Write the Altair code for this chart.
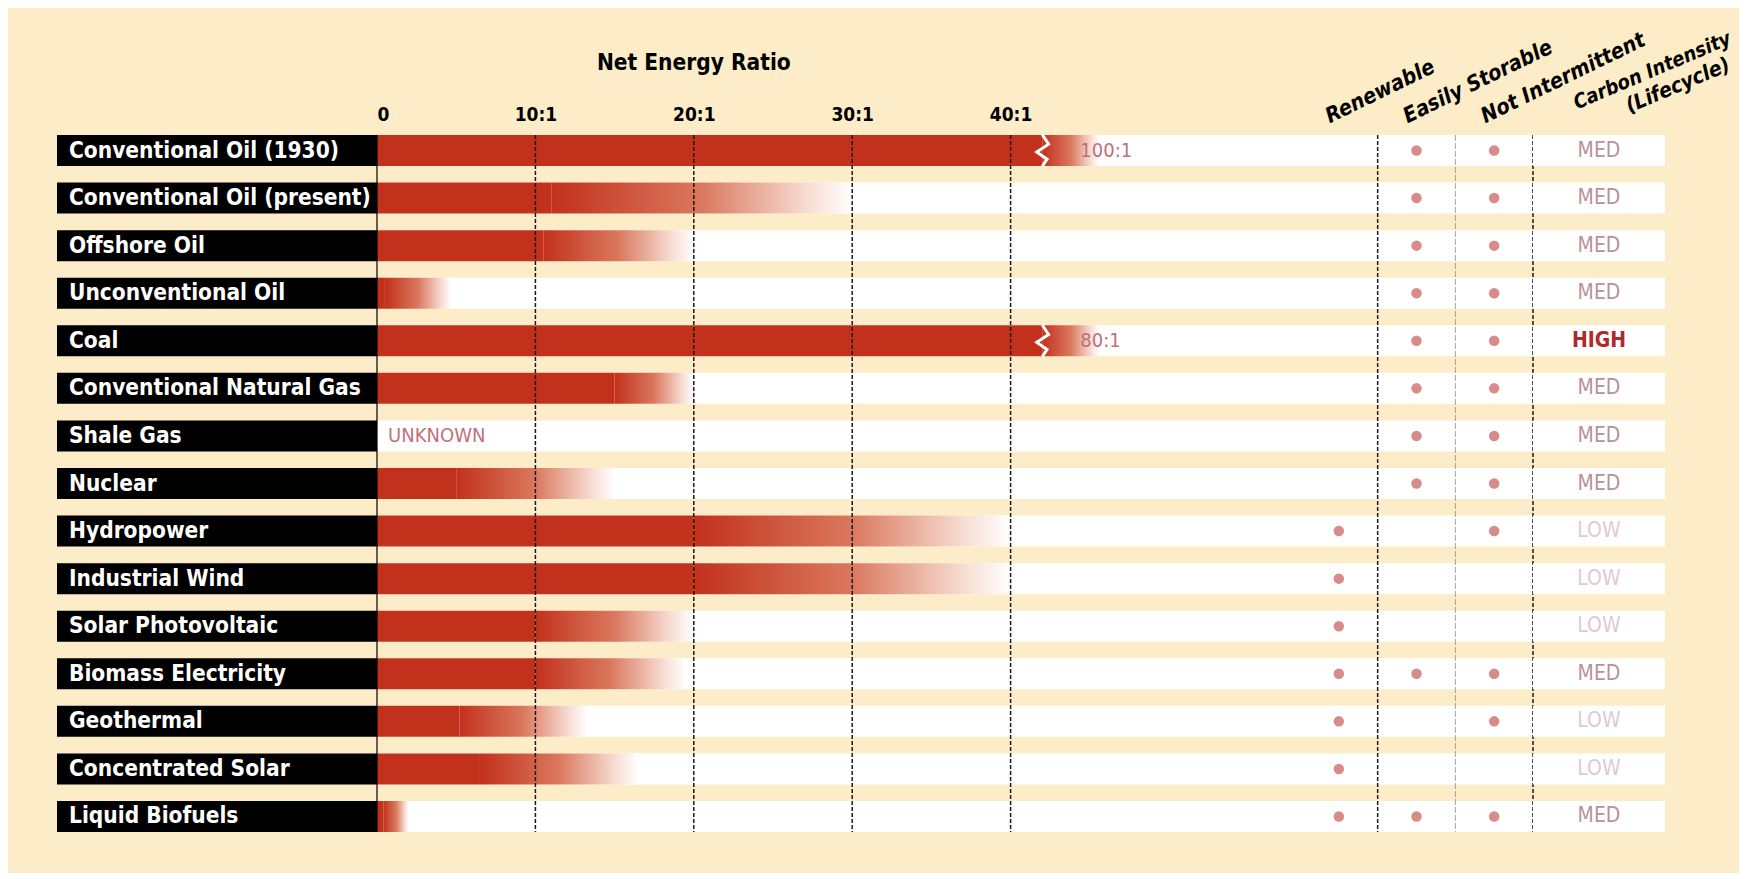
import altair as alt
import pandas as pd

sources = ["Conventional Oil (1930)", "Conventional Oil (present)", "Offshore Oil",
           "Unconventional Oil", "Coal", "Conventional Natural Gas", "Shale Gas",
           "Nuclear", "Hydropower", "Industrial Wind", "Solar Photovoltaic",
           "Biomass Electricity", "Geothermal", "Concentrated Solar", "Liquid Biofuels"]
solid_end = [42.0, 11.0, 10.5, 0.5, 42.0, 15.0, None, 5.0, 20.0, 20.0, 10.0, 10.0, 5.2, 6.5, 0.4]
fade_end = [45.6, 30.0, 20.0, 4.7, 45.6, 20.0, None, 15.0, 40.0, 40.0, 20.0, 19.5, 13.3, 16.5, 2.0]
has_break = [True, False, False, False, True, False, False, False, False, False, False, False, False, False, False]
note = ["100:1", "", "", "", "80:1", "", "UNKNOWN", "", "", "", "", "", "", "", ""]
note_at = [44.4, None, None, None, 44.4, None, 0.7, None, None, None, None, None, None, None, None]
renewable = [False, False, False, False, False, False, False, False, True, True, True, True, True, True, True]
storable = [True, True, True, True, True, True, True, True, False, False, False, True, False, False, True]
not_intermittent = [True, True, True, True, True, True, True, True, True, False, False, True, True, False, True]
carbon = ["MED", "MED", "MED", "MED", "HIGH", "MED", "MED", "MED", "LOW", "LOW", "LOW", "MED", "LOW", "LOW", "MED"]
tick_values = [0, 10, 20, 30, 40]
grid_values = [10, 20, 30, 40]
cols3 = ["Renewable", "Easily Storable", "Not Intermittent"]
carbon_hdr = "Carbon Intensity (Lifecycle)"
carbon_hdr_lines = ["Carbon Intensity", "(Lifecycle)"]

BG = "#fdecc8"
RED = "#c2311c"
PINK = "#d88c8a"
FONT = "DejaVu Sans Condensed"

df = pd.DataFrame({
    "source": sources, "solid_end": solid_end, "fade_end": fade_end,
    "has_break": has_break, "note": note, "note_at": note_at,
    "carbon": carbon, "hdr": carbon_hdr,
})
dots = []
for s, r, st, ni in zip(sources, renewable, storable, not_intermittent):
    for c, flag in zip(cols3, (r, st, ni)):
        if flag:
            dots.append({"source": s, "col": c})
dots_df = pd.DataFrame(dots)

H = 697
yenc = alt.Y("source:N", sort=sources,
             scale=alt.Scale(domain=sources, paddingInner=0.348, paddingOuter=0),
             axis=None)
base = alt.Chart(df)

# ---- Panel A: labels
lab_bg = base.mark_rect(color="black").encode(x=alt.value(0), x2=alt.value("width"), y=yenc)
lab_tx = base.mark_text(align="left", baseline="middle", color="white", font=FONT,
                        fontSize=22.5, fontWeight="bold").encode(
    x=alt.value(12), y=yenc, text="source:N")
A = alt.layer(lab_bg, lab_tx).properties(width=320, height=H)

# ---- Panel B: net energy ratio bars
xs = alt.Scale(domain=[0, 58.27], nice=False, zero=False)
xaxis = alt.Axis(orient="top", values=tick_values,
                 labelExpr="datum.value == 0 ? '0' : datum.value + ':1'",
                 domain=False, ticks=False, grid=False, labelFont=FONT,
                 labelFontSize=19, labelFontWeight="bold", labelColor="black",
                 labelPadding=11, title=None)


def X(f):
    return alt.X(f, type="quantitative", scale=xs, axis=xaxis, title=None)


row_bg = base.mark_rect(color="white").encode(x=alt.value(0), x2=alt.value("width"), y=yenc)
grad = alt.Gradient(gradient="linear", x1=0, x2=1, y1=0, y2=0, stops=[
    alt.GradientStop(offset=0, color=RED),
    alt.GradientStop(offset=0.5, color="#da785e"),
    alt.GradientStop(offset=0.85, color="#f7dcd2"),
    alt.GradientStop(offset=1, color="#ffffff"),
])
fade = base.transform_filter("isValid(datum.fade_end)").mark_rect(color=grad).encode(
    x=X("solid_end"), x2="fade_end:Q", y=yenc)
solid = base.transform_filter("isValid(datum.solid_end)").mark_rect(color=RED).encode(
    x=X("solid_end"), x2=alt.datum(0), y=yenc)
zig = base.transform_filter("datum.has_break").mark_point(
    shape="M0,-1L0.4,-0.4L-0.35,0.1L0.3,0.55L0,1", filled=False, stroke="white",
    strokeWidth=3, size=1000, opacity=1).encode(x=X("solid_end"), y=yenc)
notes = base.transform_filter("isValid(datum.note_at)").mark_text(
    align="left", baseline="middle", font=FONT, fontSize=20, color="#c0707a").encode(
    x=X("note_at"), y=yenc, text="note:N")
rules = alt.Chart(pd.DataFrame({"v": grid_values})).mark_rule(
    color="#1a1a1a", strokeWidth=1.5, strokeDash=[4, 2]).encode(x=X("v"))
zero_rule = alt.Chart(pd.DataFrame({"v": [0]})).mark_rule(color="black", strokeWidth=1.2).encode(x=X("v"))
title = alt.Chart(pd.DataFrame({"t": ["Net Energy Ratio"]})).mark_text(
    font=FONT, fontSize=22.5, fontWeight="bold", color="black", baseline="alphabetic").encode(
    x=alt.datum(20), y=alt.value(-65), text="t:N")
B = alt.layer(row_bg, fade, solid, zig, notes, rules, zero_rule, title).properties(width=923, height=H)

# ---- Panel C: attribute dots
xsc = alt.Scale(domain=cols3, paddingInner=0, paddingOuter=0)
row_bg_c = base.mark_rect(color="white").encode(x=alt.value(0), x2=alt.value("width"), y=yenc)
dot_layer = alt.Chart(dots_df).mark_circle(color=PINK, size=110, opacity=1).encode(
    x=alt.X("col:N", sort=cols3, scale=xsc, axis=None), y=yenc)
sep_dark1 = alt.Chart(pd.DataFrame({"col": ["Easily Storable"]})).mark_rule(
    color="#1a1a1a", strokeWidth=1.5, strokeDash=[4, 2]).encode(
    x=alt.X("col:N", sort=cols3, scale=xsc, axis=None, bandPosition=0))
sep_light = alt.Chart(pd.DataFrame({"col": ["Not Intermittent"]})).mark_rule(
    color="#a0a0a0", strokeWidth=1, strokeDash=[6, 2]).encode(
    x=alt.X("col:N", sort=cols3, scale=xsc, axis=None, bandPosition=0))
sep_dark2 = alt.Chart(pd.DataFrame({"col": ["Not Intermittent"]})).mark_rule(
    color="#1a1a1a", strokeWidth=1.5, strokeDash=[4, 2]).encode(
    x=alt.X("col:N", sort=cols3, scale=xsc, axis=None, bandPosition=1))
hdr_c = alt.Chart(pd.DataFrame({"col": cols3})).mark_text(
    align="left", baseline="alphabetic", angle=334, font=FONT, fontSize=21.5,
    fontWeight="bold", fontStyle="italic", color="black", dx=-10).encode(
    x=alt.X("col:N", sort=cols3, scale=xsc, axis=None), y=alt.value(-16), text="col:N")
C = alt.layer(row_bg_c, dot_layer, sep_dark1, sep_light, sep_dark2, hdr_c).properties(width=233, height=H)

# ---- Panel D: carbon intensity
xsd = alt.Scale(domain=[carbon_hdr], paddingInner=0, paddingOuter=0)
xd = alt.X("hdr:N", scale=xsd, axis=None)
row_bg_d = base.mark_rect(color="white").encode(x=alt.value(0), x2=alt.value("width"), y=yenc)
carb_norm = base.transform_filter("datum.carbon != 'HIGH'").mark_text(
    font=FONT, fontSize=21, baseline="middle").encode(
    x=xd, y=yenc, text="carbon:N",
    color=alt.Color("carbon:N", scale=alt.Scale(domain=["LOW", "MED", "HIGH"],
                                                range=["#dfc9d2", "#b8919b", "#b1272b"]), legend=None))
carb_high = base.transform_filter("datum.carbon == 'HIGH'").mark_text(
    font=FONT, fontSize=21, fontWeight="bold", baseline="middle", color="#b1272b").encode(
    x=xd, y=yenc, text="carbon:N")
hdr_df = pd.DataFrame({"hdr": [carbon_hdr], "l1": [carbon_hdr_lines[0]], "l2": [carbon_hdr_lines[1]]})
hdr_d1 = alt.Chart(hdr_df).mark_text(
    align="left", baseline="alphabetic", angle=337, font=FONT, fontSize=20,
    fontWeight="bold", fontStyle="italic", color="black", dx=-24).encode(
    x=xd, y=alt.value(-35), text="l1:N")
hdr_d2 = alt.Chart(hdr_df).mark_text(
    align="left", baseline="alphabetic", angle=337, font=FONT, fontSize=21,
    fontWeight="bold", fontStyle="italic", color="black", dx=33).encode(
    x=xd, y=alt.value(-9), text="l2:N")
D = alt.layer(row_bg_d, carb_norm, carb_high, hdr_d1, hdr_d2).properties(width=132, height=H)

chart = alt.hconcat(A, B, C, D, spacing=0, bounds="flush").resolve_scale(
    x="independent").configure_view(stroke=None).properties(
    background=BG, padding={"left": 49, "top": 20, "right": 5, "bottom": 40})

chart.save("out.html", embed_options={"renderer": "svg", "actions": False})
